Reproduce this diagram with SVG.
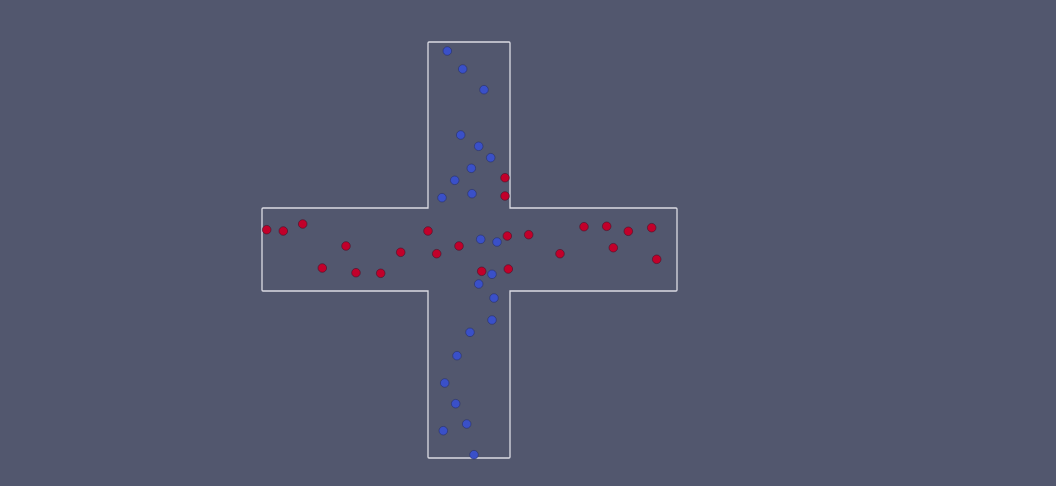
<svg xmlns="http://www.w3.org/2000/svg" width="1056" height="486" viewBox="0 0 1056 486">
<style>
.r{fill:#c2002a;stroke:#4a1028;stroke-width:0.6}
.b{fill:#3a50c8;stroke:#28306a;stroke-width:0.6}
circle{r:4.3}
</style>
<rect width="1056" height="486" fill="#52576e"/>
<path d="M428,43 Q428,42 429,42 L509,42 Q510,42 510,43 L510,208 L676,208 Q677,208 677,209 L677,290 Q677,291 676,291 L510,291 L510,457 Q510,458 509,458 L429,458 Q428,458 428,457 L428,291 L263,291 Q262,291 262,290 L262,209 Q262,208 263,208 L428,208 Z" fill="none" stroke="#dcdce4" stroke-width="1.3"/>
<g id="blue">
<circle class="b" cx="447.3" cy="51" r="4.3"/>
<circle class="b" cx="462.7" cy="69" r="4.3"/>
<circle class="b" cx="484" cy="89.7" r="4.3"/>
<circle class="b" cx="460.7" cy="135" r="4.3"/>
<circle class="b" cx="478.7" cy="146.3" r="4.3"/>
<circle class="b" cx="490.7" cy="157.7" r="4.3"/>
<circle class="b" cx="471.3" cy="168.3" r="4.3"/>
<circle class="b" cx="454.7" cy="180.3" r="4.3"/>
<circle class="b" cx="442" cy="197.7" r="4.3"/>
<circle class="b" cx="472" cy="193.7" r="4.3"/>
<circle class="b" cx="480.7" cy="239.3" r="4.3"/>
<circle class="b" cx="497" cy="242" r="4.3"/>
<circle class="b" cx="492" cy="274.3" r="4.3"/>
<circle class="b" cx="478.7" cy="284" r="4.3"/>
<circle class="b" cx="494" cy="298" r="4.3"/>
<circle class="b" cx="492" cy="320" r="4.3"/>
<circle class="b" cx="470" cy="332.3" r="4.3"/>
<circle class="b" cx="457" cy="355.7" r="4.3"/>
<circle class="b" cx="444.7" cy="383" r="4.3"/>
<circle class="b" cx="455.7" cy="403.7" r="4.3"/>
<circle class="b" cx="466.7" cy="424" r="4.3"/>
<circle class="b" cx="443.3" cy="430.7" r="4.3"/>
<circle class="b" cx="474" cy="454.7" r="4.3"/>
</g>
<g id="red">
<circle class="r" cx="505" cy="177.7" r="4.3"/>
<circle class="r" cx="505" cy="196" r="4.3"/>
<circle class="r" cx="266.7" cy="229.7" r="4.3"/>
<circle class="r" cx="283.3" cy="231" r="4.3"/>
<circle class="r" cx="302.7" cy="224" r="4.3"/>
<circle class="r" cx="346" cy="246" r="4.3"/>
<circle class="r" cx="322.3" cy="268" r="4.3"/>
<circle class="r" cx="356" cy="272.7" r="4.3"/>
<circle class="r" cx="380.7" cy="273.3" r="4.3"/>
<circle class="r" cx="400.7" cy="252.3" r="4.3"/>
<circle class="r" cx="428" cy="231" r="4.3"/>
<circle class="r" cx="436.7" cy="253.7" r="4.3"/>
<circle class="r" cx="459" cy="246" r="4.3"/>
<circle class="r" cx="507.3" cy="236" r="4.3"/>
<circle class="r" cx="528.7" cy="234.7" r="4.3"/>
<circle class="r" cx="481.7" cy="271.3" r="4.3"/>
<circle class="r" cx="508.3" cy="269" r="4.3"/>
<circle class="r" cx="584" cy="226.7" r="4.3"/>
<circle class="r" cx="606.7" cy="226.3" r="4.3"/>
<circle class="r" cx="628.3" cy="231.3" r="4.3"/>
<circle class="r" cx="651.7" cy="227.7" r="4.3"/>
<circle class="r" cx="613.3" cy="247.7" r="4.3"/>
<circle class="r" cx="560" cy="253.7" r="4.3"/>
<circle class="r" cx="656.7" cy="259.3" r="4.3"/>
</g>
</svg>
